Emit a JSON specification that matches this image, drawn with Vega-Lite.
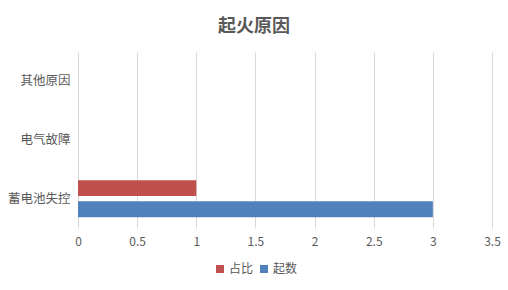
{
  "$schema": "https://vega.github.io/schema/vega-lite/v6.json",
  "width": 414,
  "height": 176,
  "autosize": {"type": "none"},
  "padding": {"left": 78, "top": 52, "right": 16, "bottom": 62},
  "background": "white",
  "title": {
    "text": "起火原因",
    "font": "Noto Sans CJK SC",
    "fontSize": 18,
    "fontWeight": "bold",
    "color": "#595959",
    "anchor": "middle",
    "dx": -31,
    "offset": 16
  },
  "data": {
    "values": [
      {"cause": "蓄电池失控", "series": "占比", "value": 1},
      {"cause": "蓄电池失控", "series": "起数", "value": 3},
      {"cause": "电气故障", "series": "占比", "value": 0},
      {"cause": "电气故障", "series": "起数", "value": 0},
      {"cause": "其他原因", "series": "占比", "value": 0},
      {"cause": "其他原因", "series": "起数", "value": 0}
    ]
  },
  "mark": {"type": "bar"},
  "encoding": {
    "y": {
      "field": "cause",
      "type": "nominal",
      "sort": ["其他原因", "电气故障", "蓄电池失控"],
      "scale": {"paddingInner": 0.37, "paddingOuter": 0.185},
      "axis": {
        "title": null,
        "domain": false,
        "ticks": false,
        "labelFont": "Noto Sans CJK SC",
        "labelFontSize": 12.5,
        "labelColor": "#595959",
        "labelPadding": 8
      }
    },
    "yOffset": {
      "field": "series",
      "type": "nominal",
      "sort": ["占比", "起数"],
      "scale": {"paddingInner": 0.25}
    },
    "x": {
      "field": "value",
      "type": "quantitative",
      "scale": {"domain": [0, 3.5], "nice": false},
      "axis": {
        "title": null,
        "domain": false,
        "ticks": false,
        "values": [0, 0.5, 1, 1.5, 2, 2.5, 3, 3.5],
        "format": "~g",
        "labelFont": "Noto Sans CJK SC",
        "labelFontSize": 12,
        "labelColor": "#595959",
        "labelPadding": 8,
        "gridColor": "#d9d9d9",
        "labelFlush": false
      }
    },
    "color": {
      "field": "series",
      "type": "nominal",
      "sort": ["占比", "起数"],
      "scale": {"domain": ["占比", "起数"], "range": ["#C0504D", "#4F81BD"]},
      "legend": {
        "title": null,
        "orient": "none",
        "direction": "horizontal",
        "legendX": 136,
        "legendY": 211,
        "symbolType": "square",
        "symbolSize": 64,
        "symbolStrokeWidth": 0,
        "labelFont": "Noto Sans CJK SC",
        "labelFontSize": 12,
        "labelColor": "#595959",
        "columnPadding": 4,
        "labelOffset": 3
      }
    }
  },
  "config": {"view": {"stroke": null}}
}
